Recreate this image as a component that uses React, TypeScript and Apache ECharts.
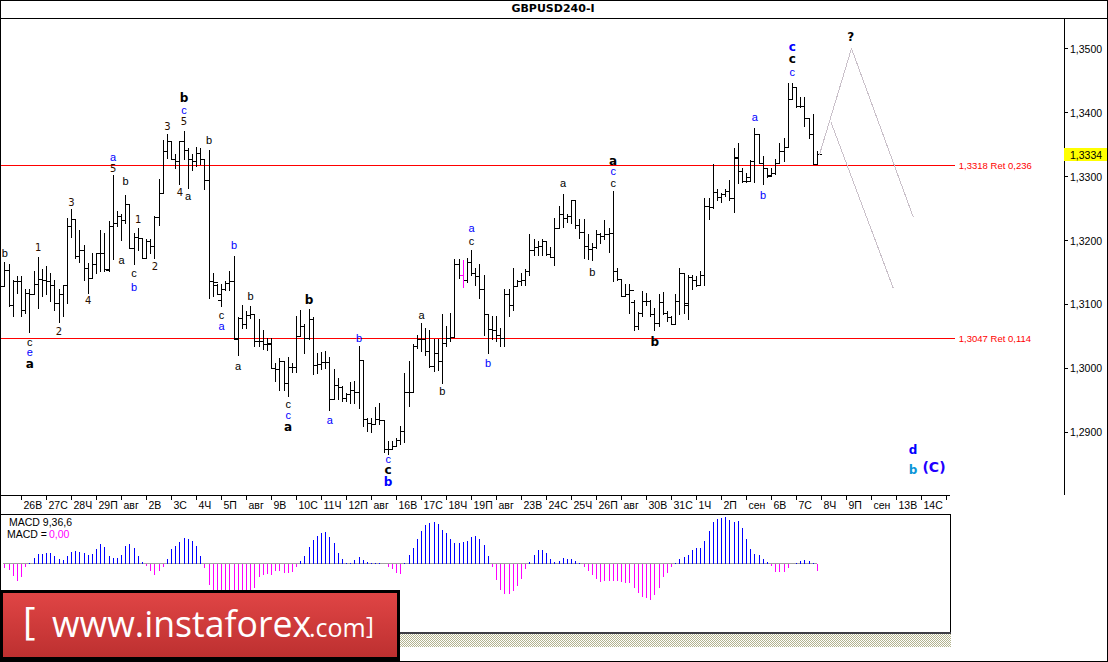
import React, { useEffect, useRef } from "react";
import * as echarts from "echarts";

// Prices are in 1/10000 units (13318 = 1,3318)
const opens = [13128,13153,13098,13136,13136,13090,13117,13116,13132,13139,13137,13136,13129,13101,13115,13130,13222,13233,13175,13185,13157,13140,13162,13179,13180,13153,13222,13226,13238,13232,13257,13188,13205,13203,13172,13199,13190,13236,13274,13339,13354,13327,13324,13354,13340,13326,13324,13336,13327,13293,13136,13130,13106,13123,13133,13136,13047,13078,13068,13083,13084,13042,13042,13037,13039,13000,12998,13011,12977,13002,13002,13050,13066,13047,13077,13004,13007,13009,13009,12951,12973,12971,12953,12959,12965,12963,13012,12921,12914,12913,12920,12918,12874,12874,12878,12888,12902,12963,12963,13034,13046,13046,13026,13003,13024,13011,13039,13047,13049,13163,13146,13137,13165,13149,13143,13124,13084,13061,13059,13052,13047,13115,13098,13128,13136,13138,13151,13185,13189,13190,13198,13178,13174,13219,13241,13235,13237,13262,13224,13213,13190,13186,13189,13210,13207,13210,13211,13152,13139,13112,13115,13103,13066,13086,13105,13105,13085,13070,13103,13086,13079,13068,13105,13149,13102,13142,13137,13129,13146,13253,13252,13275,13267,13272,13277,13266,13329,13308,13292,13299,13324,13365,13321,13312,13301,13304,13320,13339,13346,13421,13439,13409,13409,13391,13366,13319];
const highs = [13165,13162,13138,13144,13144,13123,13123,13151,13174,13154,13160,13149,13138,13123,13130,13235,13248,13233,13216,13192,13164,13180,13180,13216,13211,13230,13301,13246,13240,13271,13257,13211,13219,13203,13201,13202,13237,13295,13357,13365,13354,13334,13354,13371,13344,13334,13345,13344,13327,13340,13148,13132,13132,13136,13151,13175,13080,13098,13089,13097,13085,13077,13060,13047,13047,13008,13016,13011,13017,13008,13082,13090,13068,13092,13079,13024,13025,13027,13017,12998,12985,12972,12961,12978,12980,13034,13012,12922,12922,12939,12945,12919,12886,12886,12891,12910,12992,13011,13037,13051,13070,13062,13059,13045,13045,13085,13066,13086,13171,13171,13168,13172,13184,13157,13162,13145,13084,13081,13082,13063,13123,13123,13156,13138,13149,13154,13210,13202,13198,13201,13198,13189,13234,13253,13272,13240,13262,13262,13233,13233,13210,13196,13215,13211,13232,13219,13277,13156,13139,13132,13132,13107,13088,13120,13117,13107,13094,13115,13119,13089,13081,13116,13156,13149,13146,13145,13143,13151,13266,13266,13318,13279,13274,13279,13293,13344,13352,13313,13304,13325,13375,13365,13331,13313,13313,13326,13352,13360,13445,13445,13439,13424,13424,13391,13397,13339];
const lows = [13128,13097,13082,13117,13082,13086,13056,13116,13094,13112,13115,13105,13091,13072,13081,13102,13205,13172,13165,13138,13117,13140,13149,13151,13151,13151,13170,13222,13200,13227,13188,13163,13185,13172,13172,13180,13172,13223,13274,13328,13326,13313,13287,13326,13281,13309,13316,13319,13280,13110,13112,13115,13097,13122,13122,13046,13020,13063,13063,13078,13034,13034,13029,13028,13000,12979,12966,12966,12956,12993,12993,13050,13024,13046,12990,12992,12998,13000,12935,12951,12951,12949,12948,12946,12945,12938,12910,12902,12900,12912,12913,12869,12865,12874,12878,12881,12884,12940,12963,13032,13026,13021,13002,12995,12997,12977,13034,13042,13050,13141,13126,13134,13145,13130,13110,13052,13024,13045,13042,13034,13034,13082,13091,13128,13129,13130,13146,13177,13177,13177,13177,13174,13161,13219,13221,13228,13227,13219,13203,13172,13170,13169,13188,13196,13201,13181,13136,13138,13112,13112,13086,13059,13061,13081,13099,13081,13059,13065,13085,13073,13068,13068,13085,13086,13076,13124,13128,13129,13129,13233,13250,13263,13260,13268,13263,13243,13289,13290,13290,13292,13290,13320,13287,13299,13300,13303,13320,13323,13346,13421,13408,13408,13378,13360,13319,13318];
const closes = [13153,13098,13136,13136,13090,13117,13116,13132,13139,13137,13136,13129,13101,13115,13130,13222,13233,13175,13185,13157,13140,13162,13179,13180,13155,13222,13226,13238,13232,13257,13188,13205,13203,13172,13199,13190,13236,13274,13339,13354,13327,13324,13354,13340,13326,13324,13336,13327,13293,13136,13135,13115,13123,13133,13136,13046,13078,13068,13083,13084,13042,13042,13037,13037,13000,12998,13011,12977,13002,13002,13050,13066,13047,13077,13004,13007,13009,13009,12951,12973,12971,12953,12959,12965,12963,13012,12921,12914,12913,12920,12918,12874,12874,12878,12888,12902,12963,12963,13034,13046,13046,13026,13003,13024,13011,13039,13047,13049,13163,13146,13137,13165,13149,13143,13124,13084,13061,13059,13052,13047,13115,13098,13128,13136,13138,13151,13185,13189,13190,13198,13178,13174,13219,13241,13235,13237,13262,13224,13213,13190,13186,13189,13210,13207,13210,13211,13152,13139,13112,13115,13122,13066,13086,13105,13105,13085,13070,13103,13086,13079,13068,13105,13149,13099,13142,13137,13129,13146,13253,13252,13275,13267,13272,13277,13266,13328,13308,13292,13292,13324,13365,13321,13312,13300,13304,13320,13339,13346,13421,13439,13409,13409,13391,13366,13319,13334];
const magentaBars = [110];

const macdHist = [-13,-20,-38,-53,-40,-12,1,15,28,28,30,30,22,13,10,22,35,36,35,30,25,27,42,57,48,22,15,15,25,52,58,46,22,3,-8,-22,-35,-22,-10,12,42,52,65,75,72,68,52,22,-15,-65,-80,-95,-105,-110,-110,-105,-100,-100,-95,-85,-75,-42,-35,-32,-35,-22,-22,-28,-30,-25,-10,8,22,48,70,82,90,93,78,60,30,12,1,2,10,18,10,3,1,0,1,-2,-10,-18,-30,-32,0,25,45,72,98,115,120,124,117,100,90,72,60,61,65,67,78,82,73,55,22,-10,-50,-80,-92,-92,-82,-68,-48,-16,3,25,40,40,30,13,4,7,16,13,13,7,0,-12,-22,-35,-46,-55,-54,-53,-53,-53,-55,-58,-58,-73,-90,-102,-104,-109,-96,-75,-42,-28,-10,1,12,18,25,40,45,47,67,97,123,132,135,138,130,125,127,105,73,43,28,25,12,3,-8,-25,-27,-25,-15,-3,0,7,9,8,1,-23];

const dateLabels = ["26В","27С","28Ч","29П","авг","2В","3С","4Ч","5П","авг","9В","10С","11Ч","12П","авг","16В","17С","18Ч","19П","авг","23В","24С","25Ч","26П","авг","30В","31С","1Ч","2П","сен","6В","7С","8Ч","9П","сен","13В","14С"];
const priceTicks = [12900,13000,13100,13200,13300,13400,13500];

const levelPrices = [13318,13047];
const levelNames = ["1,3318 Ret 0,236","1,3047 Ret 0,114"];
const currentPrice = 13334;

const forecastA = [[195.5,13334],[203.2,13500],[218,13237]];
const forecastB = [[198.2,13386],[213.2,13126]];

const waveTexts = ["b","1","c","e","a","2","3","4","a","5","b","a","1","c","b","2","3","b","c","5","4","a","b","b","c","a","b","a","b","c","c","a","a","b","c","c","b","a","b","b","a","c","a","b","a","c","c","b","c","c","c","a","b","?","d","b","(C)"];
const waveBars = [0,8,6,6,6,13,16,20,26,26,29,28,32,31,31,36,39,43,43,43,42,44,49,55,52,52,59,56,73,68,68,68,78,85,92,92,92,100,105,116,112,112,134,141,146,146,146,156,189,189,189,180,182,203,218,218,223];
const wavePrices = [13181,13189,13042,13025,13007,13058,13260,13107,13331,13312,13293,13170,13233,13149,13127,13159,13378,13422,13404,13386,13275,13269,13357,13193,13083,13066,13113,13004,13107,12944,12927,12909,12919,13047,12859,12842,12822,13083,12965,13008,13220,13200,13290,13150,13325,13308,13290,13042,13503,13484,13464,13393,13271,13518,12873,12842,12846];
const waveKinds = ["t","n","t","u","k","n","n","n","u","n","t","t","n","t","u","n","n","k","u","n","n","t","t","u","t","u","t","t","k","t","u","k","u","u","u","k","B","t","t","u","u","t","t","t","k","u","t","k","B","k","u","u","u","k","B","L","P"];

const FONT = '"DejaVu Sans", sans-serif';
const SANS = '"Liberation Sans", sans-serif';
const kindStyle: Record<string, { fill: string; font: string }> = {
  t: { fill: "#000000", font: `11px ${SANS}` },
  n: { fill: "#2a1000", font: `10px ${FONT}` },
  u: { fill: "#0000ff", font: `11px ${SANS}` },
  k: { fill: "#000000", font: `bold 12px ${FONT}` },
  B: { fill: "#0000ff", font: `bold 12px ${FONT}` },
  L: { fill: "#0c96d8", font: `bold 12px ${FONT}` },
  P: { fill: "#2200ff", font: `bold 14px ${FONT}` },
};

const PX_PER_BAR = 25 / 6;
const X_MIN = -1.16;
const X_DATE_MAX = X_MIN + 950 / PX_PER_BAR;
const X_MAIN_MAX = X_MIN + 1064 / PX_PER_BAR;
const X_LEVEL_END = 228;

const crisp = (v: number) => Math.floor(v + 0.01) + 0.5;
const seg = (x1: number, y1: number, x2: number, y2: number, stroke: string) => ({
  type: "line",
  shape: { x1, y1, x2, y2 },
  style: { stroke, lineWidth: 1 },
});

function hatchPattern() {
  const c = document.createElement("canvas");
  c.width = 2;
  c.height = 2;
  const g = c.getContext("2d")!;
  g.fillStyle = "#ffffff";
  g.fillRect(0, 0, 2, 2);
  g.fillStyle = "#b4b490";
  g.fillRect(0, 0, 1, 1);
  g.fillRect(1, 1, 1, 1);
  return { image: c, repeat: "repeat" };
}

export default function App() {
  const ref = useRef<HTMLDivElement>(null);
  useEffect(() => {
    document.body.style.margin = "0";
    document.body.style.overflow = "hidden";
    const chart = echarts.init(ref.current!, null, { renderer: "svg" });
    const axisText = { color: "#000", fontFamily: "Liberation Sans, sans-serif", fontSize: 10.5 };
    chart.setOption({
      animation: false,
      backgroundColor: "#fff",
      title: {
        text: "GBPUSD240-I",
        left: 553,
        top: 3,
        padding: 0,
        textAlign: "center",
        textStyle: { fontFamily: FONT, fontSize: 11, fontWeight: "bold", color: "#000" },
      },
      grid: [
        { left: 0, top: 18, width: 1064, height: 477 },
        { left: 0, top: 18, width: 950, height: 477 },
        { left: 0, top: 514, width: 950, height: 118, show: true, borderColor: "#000", borderWidth: 1 },
      ],
      xAxis: [
        { gridIndex: 0, type: "value", min: X_MIN, max: X_MAIN_MAX, show: false },
        {
          gridIndex: 1,
          type: "value",
          min: X_MIN,
          max: X_DATE_MAX,
          position: "bottom",
          splitLine: { show: false },
          axisLine: { show: true, onZero: false, lineStyle: { color: "#000" } },
          axisTick: {
            show: true,
            length: 5,
            lineStyle: { color: "#000" },
            customValues: [...dateLabels.map((_, k) => 4 + 6 * k), 4 + 6 * dateLabels.length],
          },
          axisLabel: {
            ...axisText,
            show: true,
            align: "left",
            margin: 4,
            padding: [0, 0, 0, 2],
            hideOverlap: false,
            customValues: dateLabels.map((_, k) => 4 + 6 * k),
            formatter: (v: number) => dateLabels[Math.round((v - 4) / 6)] ?? "",
          },
        },
        { gridIndex: 2, type: "value", min: X_MIN, max: X_DATE_MAX, show: false },
      ],
      yAxis: [
        {
          gridIndex: 0,
          type: "value",
          position: "right",
          min: 12802.3,
          max: 13547.7,
          splitLine: { show: false },
          axisLine: { show: true, onZero: false, lineStyle: { color: "#000" } },
          axisTick: { show: true, length: 4, lineStyle: { color: "#000" }, customValues: priceTicks },
          axisLabel: {
            ...axisText,
            show: true,
            margin: 6,
            customValues: priceTicks,
            formatter: (v: number) => (v / 10000).toFixed(4).replace(".", ","),
          },
        },
        { gridIndex: 1, type: "value", show: false, min: 0, max: 1 },
        { gridIndex: 2, type: "value", show: false, min: -206, max: 148 },
      ],
      series: [
        {
          type: "custom",
          name: "levels",
          xAxisIndex: 0,
          yAxisIndex: 0,
          silent: true,
          data: levelPrices.map((p, i) => [p, i]),
          renderItem: (_: any, api: any) => {
            const p = api.value(0);
            const idx = api.value(1);
            const a = api.coord([X_MIN, p]);
            const b = api.coord([X_LEVEL_END, p]);
            const y = crisp(a[1]);
            return {
              type: "group",
              children: [
                seg(a[0], y, b[0], y, "#ff0000"),
                {
                  type: "text",
                  x: b[0] + 4,
                  y,
                  style: {
                    text: levelNames[idx],
                    fill: "#ff0000",
                    font: "9.5px " + SANS,
                    align: "left",
                    verticalAlign: "middle",
                    textAlign: "left",
                    textVerticalAlign: "middle",
                  },
                },
              ],
            };
          },
        },
        {
          type: "line",
          name: "forecastA",
          xAxisIndex: 0,
          yAxisIndex: 0,
          data: forecastA,
          showSymbol: false,
          silent: true,
          lineStyle: { color: "#c9c0c9", width: 1 },
        },
        {
          type: "line",
          name: "forecastB",
          xAxisIndex: 0,
          yAxisIndex: 0,
          data: forecastB,
          showSymbol: false,
          silent: true,
          lineStyle: { color: "#c9c0c9", width: 1 },
        },
        {
          type: "custom",
          name: "GBPUSD",
          xAxisIndex: 0,
          yAxisIndex: 0,
          z: 3,
          silent: true,
          data: opens.map((o, i) => [i, o, highs[i], lows[i], closes[i]]),
          renderItem: (_: any, api: any) => {
            const i = api.value(0);
            const x = crisp(api.coord([i, opens[i]])[0]);
            const yo = crisp(api.coord([i, api.value(1)])[1]);
            const yh = Math.floor(api.coord([i, api.value(2)])[1]);
            const yl = Math.ceil(api.coord([i, api.value(3)])[1]);
            const yc = crisp(api.coord([i, api.value(4)])[1]);
            const color = magentaBars.includes(i) ? "#ff00ff" : "#000000";
            return {
              type: "group",
              children: [seg(x, yh, x, yl, color), seg(x - 4, yo, x, yo, color), seg(x, yc, x + 4, yc, color)],
            };
          },
        },
        {
          type: "custom",
          name: "waves",
          xAxisIndex: 0,
          yAxisIndex: 0,
          z: 4,
          silent: true,
          data: waveBars.map((b, i) => [b, wavePrices[i], i]),
          renderItem: (_: any, api: any) => {
            const idx = api.value(2);
            const pt = api.coord([api.value(0), api.value(1)]);
            const st = kindStyle[waveKinds[idx]];
            return {
              type: "text",
              x: pt[0],
              y: pt[1],
              style: {
                text: waveTexts[idx],
                fill: st.fill,
                font: st.font,
                align: "center",
                verticalAlign: "middle",
                textAlign: "center",
                textVerticalAlign: "middle",
              },
            };
          },
        },
        {
          type: "custom",
          name: "currentPrice",
          xAxisIndex: 0,
          yAxisIndex: 0,
          z: 5,
          silent: true,
          data: [[X_MAIN_MAX, currentPrice]],
          renderItem: (_: any, api: any) => {
            const pt = api.coord([api.value(0), api.value(1)]);
            return {
              type: "group",
              children: [
                { type: "rect", shape: { x: pt[0], y: pt[1] - 6.5, width: 44, height: 13 }, style: { fill: "#ffff00" } },
                {
                  type: "text",
                  x: pt[0] + 6,
                  y: pt[1] + 0.5,
                  style: {
                    text: (api.value(1) / 10000).toFixed(4).replace(".", ","),
                    fill: "#000",
                    font: "10.5px Liberation Sans, sans-serif",
                    align: "left",
                    verticalAlign: "middle",
                    textAlign: "left",
                    textVerticalAlign: "middle",
                  },
                },
              ],
            };
          },
        },
        {
          type: "custom",
          name: "MACD zero",
          xAxisIndex: 2,
          yAxisIndex: 2,
          silent: true,
          data: [[-0.5, 0, macdHist.length - 1]],
          renderItem: (_: any, api: any) => {
            const a = api.coord([api.value(0), api.value(1)]);
            const b = api.coord([api.value(2), api.value(1)]);
            const y = crisp(a[1]);
            return seg(a[0], y, b[0], y, "#a0a0a0");
          },
        },
        {
          type: "custom",
          name: "MACD",
          xAxisIndex: 2,
          yAxisIndex: 2,
          z: 3,
          silent: true,
          data: macdHist.map((v, i) => [i, v]),
          renderItem: (_: any, api: any) => {
            const i = api.value(0);
            const v = api.value(1);
            const x = crisp(api.coord([i, 0])[0]);
            const y0 = crisp(api.coord([i, 0])[1]);
            const y1 = Math.round(api.coord([i, v])[1]);
            return seg(x, y0, x, y1, v >= 0 ? "#0000ff" : "#ff00ff");
          },
        },
      ],
      graphic: [
        { type: "line", z: 50, shape: { x1: 0, y1: 0.5, x2: 1108, y2: 0.5 }, style: { stroke: "#000", lineWidth: 1 } },
        { type: "line", z: 50, shape: { x1: 0, y1: 18.5, x2: 1108, y2: 18.5 }, style: { stroke: "#000", lineWidth: 1 } },
        { type: "line", z: 50, shape: { x1: 0.5, y1: 0, x2: 0.5, y2: 662 }, style: { stroke: "#000", lineWidth: 1 } },
        { type: "line", z: 50, shape: { x1: 1107.5, y1: 0, x2: 1107.5, y2: 662 }, style: { stroke: "#000", lineWidth: 1 } },
        { type: "line", z: 50, shape: { x1: 0, y1: 661.5, x2: 1108, y2: 661.5 }, style: { stroke: "#000", lineWidth: 1 } },
        { type: "line", z: 50, shape: { x1: 0, y1: 514.5, x2: 950, y2: 514.5 }, style: { stroke: "#000", lineWidth: 1 } },
        { type: "line", z: 50, shape: { x1: 950.5, y1: 514, x2: 950.5, y2: 633 }, style: { stroke: "#000", lineWidth: 1 } },
        { type: "rect", z: 50, shape: { x: 0, y: 632, width: 951, height: 2 }, style: { fill: "#3c3c44" } },
        { type: "rect", z: 50, shape: { x: 0, y: 634, width: 951, height: 13 }, style: { fill: hatchPattern() as any } },
        { type: "text", z: 50, x: 9, y: 516, style: { text: "MACD 9,36,6", fill: "#000", font: `10.5px ${SANS}` } },
        { type: "text", z: 50, x: 7, y: 528, style: { text: "MACD =", fill: "#000", font: `10.5px ${SANS}` } },
        { type: "text", z: 50, x: 49, y: 528, style: { text: "0,00", fill: "#ff00ff", font: `10.5px ${SANS}` } },
        { type: "rect", z: 60, shape: { x: 0, y: 590, width: 400, height: 72 }, style: { fill: "#000" } },
        {
          type: "rect",
          z: 61,
          shape: { x: 3, y: 593, width: 394, height: 64 },
          style: {
            fill: new echarts.graphic.LinearGradient(0, 0, 0, 1, [
              { offset: 0, color: "#e04545" },
              { offset: 1, color: "#bd3030" },
            ]),
          },
        },
        { type: "text", z: 62, x: 52, y: 604, scaleX: 0.963, style: { text: "www.instaforex", fill: "#fff", font: `37px "Open Sans", sans-serif` } },
        { type: "text", z: 62, x: 309, y: 614, style: { text: ".com", fill: "#fff", font: `25px "Open Sans", sans-serif` } },
        { type: "text", z: 62, x: 23, y: 601, style: { text: "[", fill: "#fff", font: `38px "Open Sans", sans-serif` } },
        { type: "text", z: 62, x: 366, y: 612, style: { text: "]", fill: "#fff", font: `24px "Open Sans", sans-serif` } },
      ],
    });
    return () => chart.dispose();
  }, []);
  return (
    <>
      <style>{`svg path { shape-rendering: crispEdges; }`}</style>
      <div ref={ref} style={{ width: 1108, height: 662 }} />
    </>
  );
}
